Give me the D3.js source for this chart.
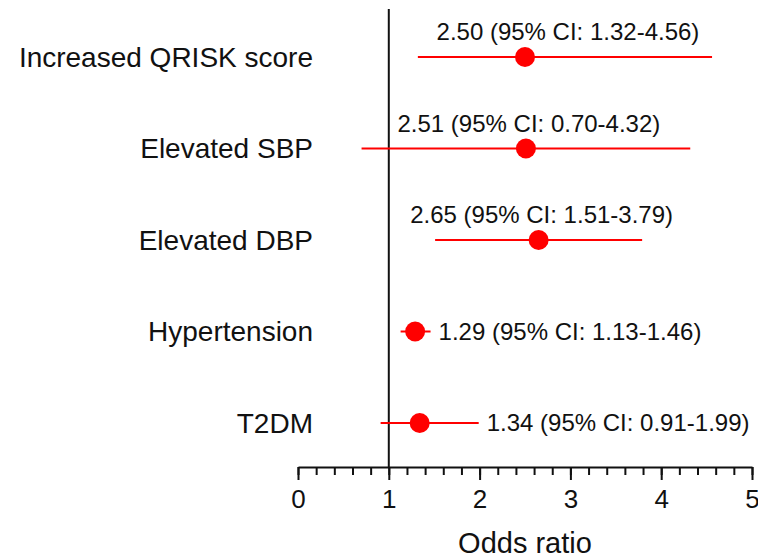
<!DOCTYPE html>
<html>
<head>
<meta charset="utf-8">
<script src="https://cdn.jsdelivr.net/npm/d3@7"></script>
<style>
  body { margin: 0; background: #fff; }
  text { font-family: "Liberation Sans", Arial, sans-serif; fill: #111; }
</style>
</head>
<body>
<svg id="chart"></svg>
<script>
const width = 758;
const height = 560;

// Data
const categories = ["Increased QRISK score", "Elevated SBP", "Elevated DBP", "Hypertension", "T2DM"];
const oddsRatios = [2.50, 2.51, 2.65, 1.29, 1.34];
const ciLower = [1.32, 0.70, 1.51, 1.13, 0.91];
const ciUpper = [4.56, 4.32, 3.79, 1.46, 1.99];
// where the annotation sits: above the line or to its right
const labelSide = ["top", "top", "top", "right", "right"];
const majorTicks = [0, 1, 2, 3, 4, 5];
const minorTicks = d3.range(0, 26).map(i => i * 0.2);

const rows = categories.map((c, i) => ({
  name: c, or: oddsRatios[i], lo: ciLower[i], hi: ciUpper[i], side: labelSide[i]
}));

const svg = d3.select("#chart")
  .attr("width", width)
  .attr("height", height);

const x = d3.scaleLinear().domain([0, 5]).range([298, 752]);
const y = d3.scalePoint().domain(categories).range([57, 423]);
const axisY = 467;

// Minor ticks
svg.append("g")
  .attr("transform", `translate(0,${axisY})`)
  .call(d3.axisBottom(x).tickValues(minorTicks).tickSize(8).tickFormat(""))
  .call(g => g.select(".domain").remove())
  .call(g => g.selectAll("line").attr("stroke", "#111").attr("stroke-width", 2));

// Major ticks + labels
svg.append("g")
  .attr("transform", `translate(0,${axisY})`)
  .call(d3.axisBottom(x).tickValues(majorTicks).tickSize(13).tickSizeOuter(0).tickPadding(10).tickFormat(d3.format("d")))
  .call(g => g.select(".domain").attr("stroke", "#111").attr("stroke-width", 2))
  .call(g => g.selectAll("line").attr("stroke", "#111").attr("stroke-width", 2))
  .call(g => g.selectAll("text").attr("font-size", 26).attr("font-family", "Liberation Sans, Arial, sans-serif").attr("fill", "#111"));

// Axis title
svg.append("text")
  .attr("x", x(2.5))
  .attr("y", 553)
  .attr("text-anchor", "middle")
  .attr("font-size", 29)
  .text("Odds ratio");

// Reference line at OR = 1
svg.append("line")
  .attr("x1", x(1)).attr("x2", x(1))
  .attr("y1", 9).attr("y2", axisY)
  .attr("stroke", "#111")
  .attr("stroke-width", 2);

// Category labels
svg.selectAll(".cat")
  .data(rows)
  .enter().append("text")
  .attr("class", "cat")
  .attr("x", 313)
  .attr("y", d => y(d.name))
  .attr("dy", "0.35em")
  .attr("text-anchor", "end")
  .attr("font-size", 28)
  .text(d => d.name);

// Confidence intervals
svg.selectAll(".ci")
  .data(rows)
  .enter().append("line")
  .attr("class", "ci")
  .attr("x1", d => x(d.lo))
  .attr("x2", d => x(d.hi))
  .attr("y1", d => y(d.name))
  .attr("y2", d => y(d.name))
  .attr("stroke", "#ff0000")
  .attr("stroke-width", 2);

// Point estimates
svg.selectAll(".pt")
  .data(rows)
  .enter().append("circle")
  .attr("class", "pt")
  .attr("cx", d => x(d.or))
  .attr("cy", d => y(d.name))
  .attr("r", 10)
  .attr("fill", "#ff0000");

// Annotations
const fmt = d3.format(".2f");
svg.selectAll(".ann")
  .data(rows)
  .enter().append("text")
  .attr("class", "ann")
  .attr("x", d => d.side === "top" ? x((d.lo + d.hi) / 2) + 3 : x(d.hi) + 8)
  .attr("y", d => d.side === "top" ? y(d.name) - 17 : y(d.name))
  .attr("dy", d => d.side === "top" ? 0 : "0.35em")
  .attr("text-anchor", d => d.side === "top" ? "middle" : "start")
  .attr("font-size", 24)
  .text(d => `${fmt(d.or)} (95% CI: ${fmt(d.lo)}-${fmt(d.hi)})`);
</script>
</body>
</html>
